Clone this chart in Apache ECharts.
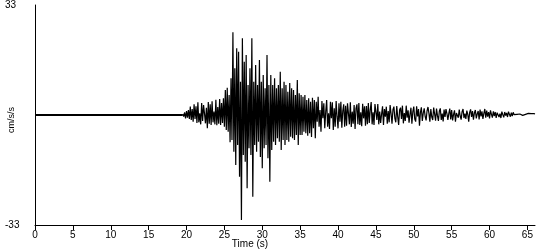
<!DOCTYPE html>
<html>
<head>
<meta charset="utf-8">
<script src="https://cdn.jsdelivr.net/npm/echarts@6/dist/echarts.min.js"></script>
<style>html,body{margin:0;padding:0;background:#fff}#c{width:550px;height:250px}</style>
</head>
<body>
<div id="c"></div>
<script>
// Pre-event quiet record (s, cm/s/s)
var preTimes = [0, 19.5];
var preValues = [0, 0];
// Main shaking, sampled every 0.125 s from 19.5 s
var mainStart = 19.5;
var mainStep = 0.125;
var mainValues = [
  0.3, -0.5, 0.8, -1.0,
  1.2, -0.8, 1.5, -1.2, 2.5, -1.5, 1.8, -2.0,
  3.2, -1.2, 2.6, -2.4, 3.8, -2.2, 0.5, -2.8,
  3.6, -1.8, 3.0, 0.4, -2.5, 2.2, -4.0, 3.9,
  -2.6, 3.2, -3.0, 4.1, -2.2, 1.0, -2.8, 4.6,
  -3.1, 2.4, -2.6, 4.8, -3.0, 3.6, -2.4, 5.0,
  -3.5, 7.5, -4.5, 8.2, -5.0, 6.0, -8.2, 11.0,
  -7.5, 24.8, -11.0, 14.0, -15.0, 20.0, -9.0, 19.0,
  -18.5, 10.0, -31.5, 23.0, -12.0, 16.0, -14.0, 18.0,
  -22.0, 9.0, -10.0, 14.0, -12.0, 23.0, -24.5, 10.0,
  -9.0, 15.0, -11.0, 9.0, -8.0, 16.5, -12.6, 10.0,
  -16.0, 12.0, -10.0, 8.0, -9.0, 18.0, -13.0, 9.0,
  -20.0, 12.0, -10.5, 9.0, -8.0, 11.0, -9.0, 8.0,
  -7.0, 9.0, -8.0, 13.0, -10.5, 8.0, -7.5, 10.0,
  -9.0, 9.0, -7.5, 7.0, -8.0, 9.6, -6.5, 8.0,
  -7.0, 7.5, -7.5, 6.0, -6.0, 10.5, -9.0, 6.5,
  -6.0, 6.0, -6.0, 5.5, -5.0, 6.0, -5.5, 4.5,
  -6.2, 5.0, -5.5, 4.0, -6.6, 5.2, -4.0, 4.5,
  -7.0, 4.0, -2.0, 5.5, -3.5, 1.5, -5.0, 4.2,
  -1.0, 3.5, -4.0, 1.0, 4.5, -3.5, 0.5, -4.2,
  4.0, -1.0, 3.8, -4.5, 2.0, -3.5, 4.2, -0.5,
  -4.0, 3.5, -2.0, 4.0, -3.8, 1.2, 3.2, -3.5,
  2.8, -3.2, 3.5, 0.5, -2.8, 3.8, -3.6, 1.0,
  -2.6, 3.0, -4.2, 2.0, 3.2, -2.8, 3.6, -3.0,
  0.8, -3.4, 3.4, -1.0, 2.6, -3.2, 2.7, -2.8,
  3.6, -2.4, 1.5, 3.9, -2.8, 0.8, -3.0, 3.3
];
// Coda, sampled every 0.125 s from 45 s
var codaStart = 45;
var codaStep = 0.125;
var codaValues = [
  2.8, -1.5, 3.3, -2.8, 1.0, -2.4, 0.3, 2.6,
  -3.0, 1.8, -0.5, 2.5, -2.6, 1.2, -2.2, 3.0,
  0.4, -2.6, 1.6, 2.5, -1.0, -2.2, 2.7, -0.5,
  -3.0, 1.5, 2.2, -1.2, 2.8, -2.5, 0.6, -1.8,
  2.8, -0.8, 1.4, -2.3, 0.2, 2.2, -2.6, 1.0,
  2.5, -1.2, -2.0, 2.6, -0.4, 1.8, -3.2, 0.8,
  2.3, -1.8, 0.6, 2.0, -0.4, -1.6, 1.2, 2.4,
  0.5, -2.0, 1.8, -0.6, -1.5, 2.2, 0.3, -1.7,
  1.9, -0.2, -1.8, 1.2, 2.0, -1.5, 0.4, -1.9,
  1.6, -0.6, 1.8, 0.4, -1.5, 0.5, 1.9, -1.3,
  1.5, -1.6, 0.2, 1.4, -2.0, 0.6, 1.2, -0.8,
  1.6, -0.3, -1.4, 1.0, 1.8, -0.9, 0.4, -1.2,
  1.3, 0.2, -2.0, 0.8, 1.7, -0.6, 1.2, -1.4,
  0.6, 1.5, -1.0, 0.3, 1.2, -1.3, 1.6, -0.4,
  1.1, -1.2, 0.5, 1.8, -0.8, 1.3, -0.5, 0.9,
  -1.0, 1.4, 0.2, -0.8, 1.1, -0.3, 0.9, -0.9,
  0.7, 1.2, -0.6, 0.4, -0.9, 1.0, 0.1, -0.7,
  0.9, -0.2, 0.6, -0.6, 1.0, 0.2, -0.5, 0.7,
  -0.3, 0.8, 0.1, -0.4, 0.6, 0.2, -0.2, 0.5,
  0.3, 0.1, 0.4, -0.1, 0.5, 0.3, 0.2, 0.4,
  0.3, 0.5, 0.4, 0.3, 0.4, 0.3, 0.4, 0.4,
  0.3
];
var xTickLabels = ['0','5','10','15','20','25','30','35','40','45','50','55','60','65'];
var yLimit = 33;

var preData = preTimes.map(function (t, i) { return [t, preValues[i]]; });
var traceData = [];
mainValues.forEach(function (v, i) { traceData.push([mainStart + i * mainStep, v]); });
codaValues.forEach(function (v, i) { traceData.push([codaStart + i * codaStep, v]); });

var FONT = '"Liberation Sans", Arial, sans-serif';
var chart = echarts.init(document.getElementById('c'), null, {renderer: 'canvas'});
chart.setOption({
  animation: false,
  backgroundColor: '#ffffff',
  grid: {left: 35, right: 15, top: 5, bottom: 25, containLabel: false},
  xAxis: {
    type: 'value', min: 0, max: 66, interval: 5,
    axisLine: {show: true, onZero: false, lineStyle: {color: '#000', width: 1}},
    axisTick: {show: true, inside: false, length: 5, lineStyle: {color: '#000'}},
    splitLine: {show: false},
    axisLabel: {
      color: '#000', fontFamily: FONT, fontSize: 10, margin: 5,
      showMaxLabel: false,
      formatter: function (v) { var i = Math.round(v / 5); return xTickLabels[i] !== undefined ? xTickLabels[i] : ''; }
    }
  },
  yAxis: {
    type: 'value', min: -yLimit, max: yLimit, interval: yLimit,
    axisLine: {show: true, onZero: false, lineStyle: {color: '#000', width: 1}},
    axisTick: {show: false},
    splitLine: {show: false},
    axisLabel: {
      color: '#000', fontFamily: FONT, fontSize: 10, margin: 30, align: 'left',
      formatter: function (v) { return v === 0 ? '' : String(v); }
    }
  },
  graphic: [
    {type: 'text', x: 12, y: 120, rotation: Math.PI / 2,
     style: {text: 'cm/s/s', fill: '#000', font: '9px ' + FONT, align: 'center', verticalAlign: 'middle'}},
    {type: 'text', x: 250, y: 244,
     style: {text: 'Time (s)', fill: '#000', font: '10px ' + FONT, align: 'center', verticalAlign: 'middle'}}
  ],
  series: [
    {type: 'line', data: preData, showSymbol: false, symbol: 'none',
     lineStyle: {color: '#000', width: 2}, silent: true},
    {type: 'line', data: traceData, showSymbol: false, symbol: 'none', sampling: null,
     lineStyle: {color: '#000', width: 1.2}, silent: true}
  ]
});
</script>
</body>
</html>
